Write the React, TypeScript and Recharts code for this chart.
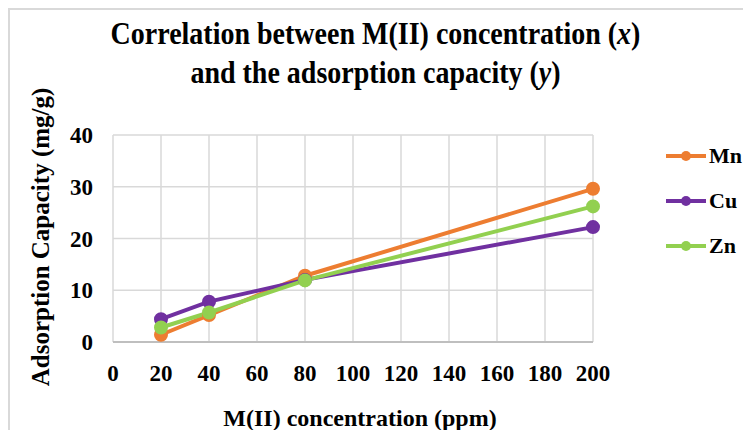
import React from "react";
import { LineChart, Line, XAxis, YAxis, CartesianGrid } from "recharts";

const concentrations = [20, 40, 80, 200];
const mn = [1.4, 5.2, 12.8, 29.6];
const cu = [4.4, 7.8, 12.0, 22.2];
const zn = [2.8, 5.7, 11.9, 26.2];
const xTicks = [0, 20, 40, 60, 80, 100, 120, 140, 160, 180, 200];
const yTicks = [0, 10, 20, 30, 40];

const seriesNames = ["Mn", "Cu", "Zn"];
const seriesColors = ["#ED7D31", "#7030A0", "#92D050"];

const data = concentrations.map((x, i) => ({ x, Mn: mn[i], Cu: cu[i], Zn: zn[i] }));

const font = '"Liberation Serif", "Times New Roman", serif';
const tickStyle = { fontFamily: font, fontSize: 23, fontWeight: 700, fill: "#000" };

export default function App() {
  return (
    <div style={{ position: "relative", margin: -8, width: 751, height: 438, background: "#fff", overflow: "hidden" }}>
      <div
        style={{
          position: "absolute",
          left: 8,
          top: 8,
          width: 800,
          height: 500,
          borderLeft: "2px solid #d9d9d9",
          borderTop: "2px solid #d9d9d9",
        }}
      />
      <div
        style={{
          position: "absolute",
          left: 0,
          top: 14,
          width: 751,
          textAlign: "center",
          fontFamily: font,
          fontWeight: 700,
          fontSize: 28,
          lineHeight: "35px",
          transform: "scaleY(1.12)",
          transformOrigin: "top",
        }}
      >
        Correlation between M(II) concentration (<i>x</i>)
        <br />
        and the adsorption capacity (<i>y</i>)
      </div>
      <div style={{ position: "absolute", left: 0, top: 0 }}>
        <LineChart
          width={751}
          height={438}
          data={data}
          margin={{ top: 135, right: 158, bottom: 66, left: 0 }}
        >
          <CartesianGrid stroke="#d9d9d9" strokeWidth={1.5} />
          <XAxis
            dataKey="x"
            type="number"
            domain={[0, 200]}
            ticks={xTicks}
            height={30}
            tickSize={0}
            tickMargin={23}
            axisLine={{ stroke: "#bfbfbf", strokeWidth: 2 }}
            tick={tickStyle}
            interval={0}
          />
          <YAxis
            type="number"
            domain={[0, 40]}
            ticks={yTicks}
            width={113}
            tickSize={0}
            tickMargin={20}
            axisLine={false}
            tick={tickStyle}
          />
          {seriesNames.map((name, i) => (
            <Line
              key={name}
              dataKey={name}
              name={name}
              stroke={seriesColors[i]}
              strokeWidth={4}
              dot={{ r: 5, fill: seriesColors[i], stroke: seriesColors[i] }}
              isAnimationActive={false}
            />
          ))}
        </LineChart>
      </div>
      <div style={{ position: "absolute", left: 665, top: 133 }}>
        {seriesNames.map((name, i) => (
          <div key={name} style={{ display: "flex", alignItems: "center", height: 45 }}>
            <svg width={42} height={12}>
              <line x1={1} y1={6} x2={41} y2={6} stroke={seriesColors[i]} strokeWidth={4} />
              <circle cx={21} cy={6} r={5} fill={seriesColors[i]} />
            </svg>
            <span style={{ fontFamily: font, fontSize: 22, fontWeight: 700, marginLeft: 2, whiteSpace: "nowrap" }}>{name}</span>
          </div>
        ))}
      </div>
      <div
        style={{
          position: "absolute",
          left: 41,
          top: 237,
          transform: "translate(-50%, -50%) rotate(-90deg)",
          whiteSpace: "nowrap",
          fontFamily: font,
          fontWeight: 700,
          fontSize: 25,
        }}
      >
        Adsorption Capacity (mg/g)
      </div>
      <div
        style={{
          position: "absolute",
          left: 360,
          top: 418,
          transform: "translate(-50%, -50%)",
          whiteSpace: "nowrap",
          fontFamily: font,
          fontWeight: 700,
          fontSize: 24,
        }}
      >
        M(II) concentration (ppm)
      </div>
    </div>
  );
}
